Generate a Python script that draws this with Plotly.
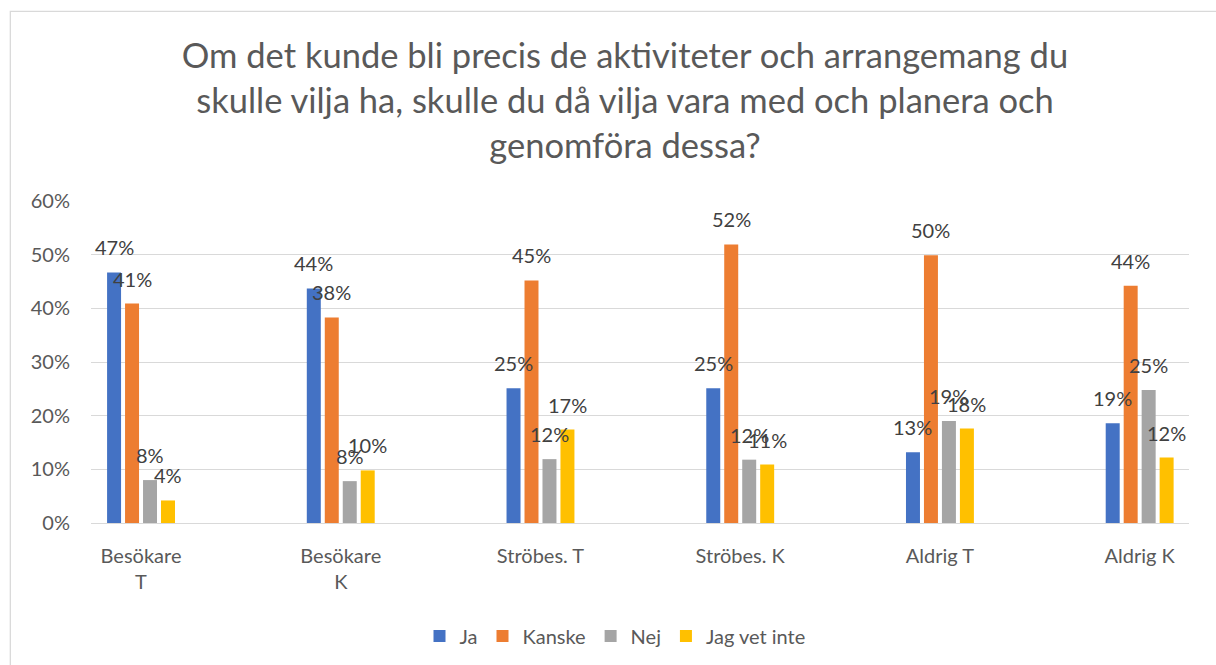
import plotly.graph_objects as go

categories = ["Besökare T", "Besökare K", "Ströbes. T", "Ströbes. K", "Aldrig T", "Aldrig K"]
tick_labels = ["Besökare<br>T", "Besökare<br>K", "Ströbes. T", "Ströbes. K", "Aldrig T", "Aldrig K"]

series_names = ["Ja", "Kanske", "Nej", "Jag vet inte"]
ja = [0.467, 0.437, 0.251, 0.251, 0.132, 0.186]
kanske = [0.409, 0.383, 0.452, 0.519, 0.499, 0.442]
nej = [0.080, 0.078, 0.119, 0.118, 0.190, 0.248]
vet_inte = [0.042, 0.098, 0.174, 0.109, 0.176, 0.122]
series_values = [ja, kanske, nej, vet_inte]
colors = ["#4472C4", "#ED7D31", "#A5A5A5", "#FFC000"]

title_text = ("Om det kunde bli precis de aktiviteter och arrangemang du<br>"
              "skulle vilja ha, skulle du då vilja vara med och planera och<br>"
              "genomföra dessa?")

FONT = "Lato, Carlito, Calibri, sans-serif"
W, H = 1216, 665
ML, MR, MT, MB = 90.7, W - 1189, 200.7, H - 522.7

BARGAP = 0.64
n_series = len(series_names)
slot = (1 - BARGAP) / n_series

fig = go.Figure()
for name, vals, col in zip(series_names, series_values, colors):
    fig.add_trace(go.Bar(
        name=name, x=categories, y=vals,
        marker=dict(color=col, line=dict(width=0)),
        hoverinfo="skip",
    ))

annotations = []
for j, vals in enumerate(series_values):
    off = (j - (n_series - 1) / 2) * slot
    for i, v in enumerate(vals):
        annotations.append(dict(
            x=i + off, y=v, xref="x", yref="y",
            text=f"{round(v * 100)}%", showarrow=False,
            yshift=25, yanchor="middle", xanchor="center",
            font=dict(family=FONT, size=20, color="#404040"),
        ))

plot_w = W - ML - MR
plot_h = H - MT - MB

fig.update_layout(
    width=W, height=H,
    margin=dict(l=ML, r=MR, t=MT, b=MB, pad=0),
    paper_bgcolor="white", plot_bgcolor="white",
    barmode="group", bargap=BARGAP, bargroupgap=0.222,
    font=dict(family=FONT, size=20, color="#595959"),
    title=dict(
        text=title_text, x=625 / W, xanchor="center", xref="container",
        y=1 - 68 / H, yanchor="top", yref="container",
        font=dict(family=FONT, size=34.5, color="#595959"),
    ),
    xaxis=dict(
        type="category", categoryorder="array", categoryarray=categories,
        tickmode="array", tickvals=categories, ticktext=tick_labels,
        range=[-0.2505, 5.247],
        showline=True, linecolor="#D9D9D9", linewidth=1,
        showgrid=False, ticks="", ticklabelstandoff=15,
        tickfont=dict(family=FONT, size=20, color="#595959"),
        fixedrange=True,
    ),
    yaxis=dict(
        range=[0, 0.6], dtick=0.1, tickformat=".0%",
        showgrid=True, gridcolor="#D9D9D9", gridwidth=1,
        zeroline=False, showline=False, ticks="", ticklabelstandoff=20,
        tickfont=dict(family=FONT, size=20, color="#595959"),
        fixedrange=True,
    ),
    legend=dict(
        orientation="h", x=615 / W, xref="container", xanchor="center",
        y=1 - 636 / H, yref="container", yanchor="middle",
        font=dict(family=FONT, size=20, color="#595959"),
        itemclick=False, itemdoubleclick=False,
    ),
    annotations=annotations,
    shapes=[dict(
        type="rect", xref="paper", yref="paper",
        x0=(10 - ML) / plot_w, x1=(1245 - ML) / plot_w,
        y0=(H - MB - 668) / plot_h, y1=(H - MB - 11) / plot_h,
        line=dict(color="#D9D9D9", width=1.3), fillcolor="rgba(0,0,0,0)",
        layer="below",
    )],
    showlegend=True,
)

fig.write_html("out.html", config={"displayModeBar": False},
               post_script="document.body.style.margin='0';document.body.style.overflow='hidden';")
